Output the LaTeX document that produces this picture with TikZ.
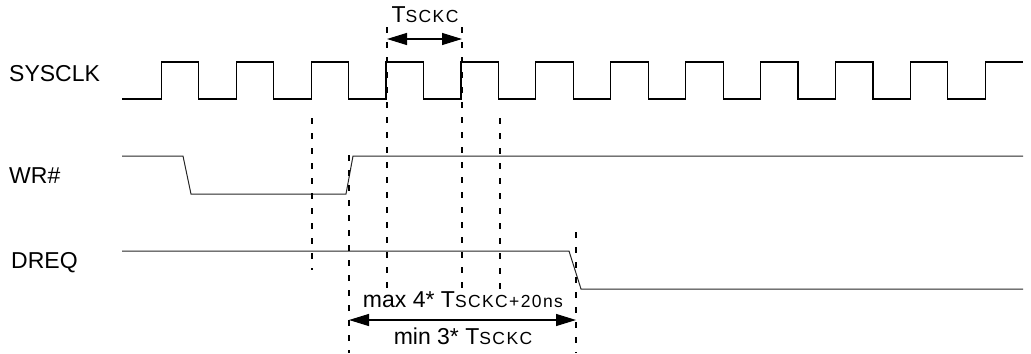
\documentclass[tikz,border=0pt]{standalone}
\usepackage{fontspec}
\setmainfont{Liberation Sans}
\newfontfamily\subfont[LetterSpace=8]{Liberation Sans}
\usepackage{tikz}
\usetikzlibrary{arrows.meta}
\newcommand{\lowcaps}[1]{{\subfont\fontsize{17.5bp}{20bp}\selectfont #1}}

\begin{document}
\begin{tikzpicture}[x=1bp,y=-1bp,font=\fontsize{23bp}{27bp}\selectfont,
 sig/.style={line width=1.2bp},
 level/.style={line width=1bp,black!85},
 guide/.style={line width=1.1bp,dash pattern=on 6bp off 9bp},
 dim/.style={{Triangle[length=20bp,width=12bp]}-{Triangle[length=20bp,width=12bp]},line width=1.2bp},
 lbl/.style={anchor=base west,inner sep=0pt}]
\useasboundingbox (0,0) rectangle (1031,353);
% signal names
\node[lbl] (sysclk) at (9,81) {SYSCLK};
\node[lbl] (wr) at (9,183) {WR\#};
\node[lbl] (dreq) at (11,268) {DREQ};
% waveforms
\draw[sig] (122,99) \foreach \k in {0,...,10}{
  -- ({161.3+74.9*\k},99) -- ({161.3+74.9*\k},62)
  -- ({198.8+74.9*\k},62) -- ({198.8+74.9*\k},99)}
  -- (985.2,99) -- (985.2,62) -- (1023,62);
\draw[level] (122,156) -- (183,156) -- (191,194) -- (346,194) -- (353,156) -- (1023,156);
\draw[level] (122,251) -- (569,251) -- (581,289) -- (1023,289);
% timing guides
\foreach \x/\a/\b in {312/118/270,349/155/353,387/27/290,462/27/290,500/118/290,576/232/353}
  \draw[guide] (\x,\a) -- (\x,\b);
% clock period
\coordinate (t0) at (387,39);
\coordinate (t1) at (462,39);
\draw[dim] (t0) -- (t1);
\node[anchor=base,inner sep=0pt] (tsckc) at (425,22) {T\lowcaps{SCKC}};
% DREQ delay
\coordinate (d0) at (349,320);
\coordinate (d1) at (576,320);
\draw[dim] (d0) -- (d1);
\node[anchor=base,inner sep=0pt] (maxlbl) at (463,307) {max 4* T\lowcaps{SCKC+20ns}};
\node[anchor=base,inner sep=0pt] (minlbl) at (463,344) {min 3* T\lowcaps{SCKC}};
\end{tikzpicture}
\end{document}
